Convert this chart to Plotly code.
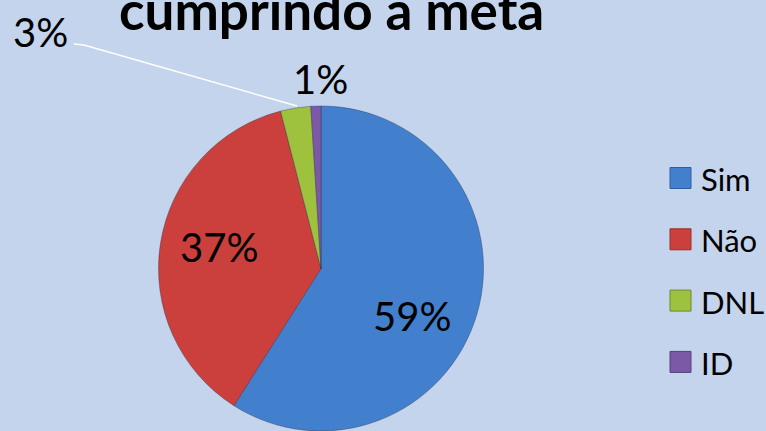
import plotly.graph_objects as go

W, H = 766, 431

# ---- data ----
categories = ["Sim", "Não", "DNL", "ID"]
values = [59, 37, 3, 1]
colors = ["#4280CE", "#CB403C", "#9EC23E", "#7C59A7"]
edge_colors = ["#2E5E9E", "#9A2E2B", "#6E8A2A", "#57407A"]
title_text = "cumprindo a meta"

BG = "#C4D4EC"
FONT = "Lato"

def px(x, y):
    """pixel (from top-left) -> paper coords"""
    return x / W, 1 - y / H

fig = go.Figure()

# pie geometry: centre (321, 269), radius ~163
cx, cy, R = 321, 269, 163
fig.add_trace(go.Pie(
    labels=categories,
    values=values,
    marker=dict(colors=colors, line=dict(color="rgba(40,40,70,0.35)", width=1)),
    sort=False,
    direction="clockwise",
    rotation=0,
    textinfo="none",
    hoverinfo="label+percent",
    showlegend=False,
    domain=dict(x=[(cx - R) / W, (cx + R) / W], y=[0, (H - cy + R) / H]),
))

annotations = []
shapes = []

# title (top part cut off in the reference)
tx, ty = px(331, 43)
annotations.append(dict(text=f"<b>{title_text}</b>", x=tx, y=ty, xref="paper", yref="paper",
                        xanchor="center", yanchor="bottom", showarrow=False,
                        font=dict(family=FONT, size=53, color="#000000")))

# data labels
label_pos = [(412, 316), (219, 247), (40, 32), (320, 79)]
for v, (lx, ly) in zip(values, label_pos):
    ax, ay = px(lx, ly)
    annotations.append(dict(text=f"{v}%", x=ax, y=ay, xref="paper", yref="paper",
                            xanchor="center", yanchor="middle", showarrow=False,
                            font=dict(family=FONT, size=40, color="#000000")))

# leader line for the 3% label
p0 = px(74, 44); p1 = px(84, 45); p2 = px(297, 106)
shapes.append(dict(type="path", xref="paper", yref="paper",
                   path=f"M {p0[0]},{p0[1]} L {p1[0]},{p1[1]} L {p2[0]},{p2[1]}",
                   line=dict(color="#FFFFFF", width=1.5)))

# custom legend
leg_y0, leg_dy = 178, 61.3
for i, (cat, col, ec) in enumerate(zip(categories, colors, edge_colors)):
    yc = leg_y0 + i * leg_dy
    a = px(670, yc - 10.5); b = px(691, yc + 10.5)
    shapes.append(dict(type="rect", xref="paper", yref="paper",
                       x0=a[0], y0=b[1], x1=b[0], y1=a[1],
                       fillcolor=col, line=dict(color=ec, width=1)))
    lx, ly = px(699, yc + 1)
    annotations.append(dict(text=cat, x=lx, y=ly, xref="paper", yref="paper",
                            xanchor="left", yanchor="middle", showarrow=False,
                            font=dict(family=FONT, size=31, color="#000000")))

fig.update_layout(
    width=W, height=H,
    margin=dict(l=0, r=0, t=0, b=0),
    paper_bgcolor=BG, plot_bgcolor=BG,
    annotations=annotations, shapes=shapes,
    showlegend=False,
)

fig.write_html("out.html", config={"displayModeBar": False},
               post_script="document.body.style.margin='0';document.body.style.overflow='hidden';document.body.style.background='" + BG + "';")
